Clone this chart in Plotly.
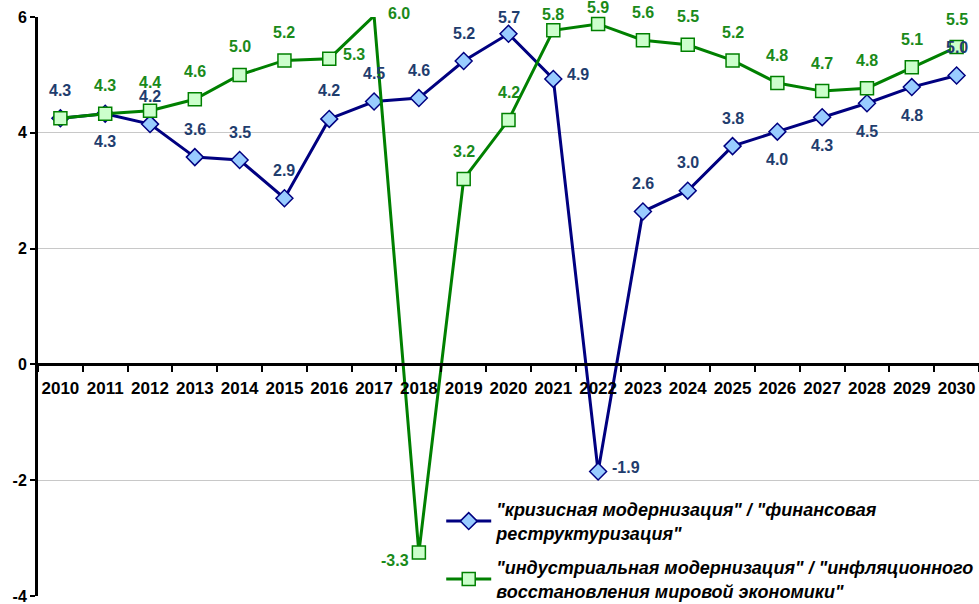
import plotly.graph_objects as go

years = [str(y) for y in range(2010, 2031)]

y_ticks = [-4, -2, 0, 2, 4, 6]
y_tick_labels = ["-4", "-2", "0", "2", "4", "6"]

crisis_values = [4.25, 4.33, 4.15, 3.58, 3.53, 2.87, 4.24, 4.54, 4.60, 5.24, 5.71,
                 4.93, -1.85, 2.64, 3.00, 3.77, 4.02, 4.27, 4.51, 4.79, 4.99]
crisis_labels = ["4.3", "4.3", "4.2", "3.6", "3.5", "2.9", "4.2", "4.5", "4.6", "5.2", "5.7",
                 "4.9", "-1.9", "2.6", "3.0", "3.8", "4.0", "4.3", "4.5", "4.8", "5.0"]
# label placement: t = above, T = above (tight, near top edge), b = below, r = right, l = left
crisis_pos = ["t", "b", "t", "t", "t", "t", "t", "t", "t", "t", "T",
              "r", "r", "t", "t", "t", "b", "b", "b", "b", "t"]

industry_values = [4.25, 4.33, 4.38, 4.58, 5.00, 5.25, 5.28, 6.02, -3.25, 3.20, 4.22,
                   5.77, 5.88, 5.60, 5.52, 5.25, 4.86, 4.72, 4.77, 5.13, 5.48]
industry_labels = ["", "4.3", "4.4", "4.6", "5.0", "5.2", "5.3", "6.0", "-3.3", "3.2", "4.2",
                   "5.8", "5.9", "5.6", "5.5", "5.2", "4.8", "4.7", "4.8", "5.1", "5.5"]
industry_pos = ["t", "t", "t", "t", "t", "t", "r", "r", "l", "t", "t",
                "T", "T", "t", "t", "t", "t", "t", "t", "t", "t"]

crisis_name = "\"кризисная модернизация\" / \"финансовая<br>реструктуризация\""
industry_name = "\"индустриальная модернизация\" / \"инфляционного<br>восстановления мировой экономики\""

FONT = "Liberation Sans, Arial, sans-serif"
BLUE_LINE = "#000080"
BLUE_TEXT = "#1F3D6E"
GREEN_LINE = "#008000"
GREEN_TEXT = "#1A8A1A"
Y_MAX = 6

fig = go.Figure()

fig.add_trace(
    go.Scatter(
        x=years,
        y=crisis_values,
        mode="lines+markers",
        name=crisis_name,
        legendgroup="a",
        cliponaxis=False,
        line=dict(color=BLUE_LINE, width=3),
        marker=dict(symbol="diamond", size=13, color="#99CCFF",
                    line=dict(color=BLUE_LINE, width=1.5))
    )
)

fig.add_trace(
    go.Scatter(
        x=years,
        y=industry_values,
        mode="lines+markers",
        name=industry_name,
        legendgroup="b",
        cliponaxis=False,
        line=dict(color=GREEN_LINE, width=3),
        marker=dict(symbol="square", size=13, color="#CCFFCC",
                    line=dict(color=GREEN_LINE, width=1.5))
    )
)

annotations = []


def add_labels(values, labels, positions, color):
    # category axis: annotations use the category index;
    # plotly hides annotations anchored outside the range, so clamp to the top
    for i, (v, t, p) in enumerate(zip(values, labels, positions)):
        if not t:
            continue
        a = dict(x=i, y=min(v, Y_MAX), text=t, showarrow=False,
                 font=dict(family=FONT, size=16, color=color, weight="bold"))
        if p == "t":
            a.update(yshift=28)
        elif p == "T":
            a.update(yshift=16)
        elif p == "b":
            a.update(yshift=-28)
        elif p == "r":
            a.update(xanchor="left", xshift=12, yshift=4)
        elif p == "l":
            a.update(xanchor="right", xshift=-8, yshift=-8)
        annotations.append(a)


add_labels(industry_values, industry_labels, industry_pos, GREEN_TEXT)
add_labels(crisis_values, crisis_labels, crisis_pos, BLUE_TEXT)

fig.update_layout(
    width=979,
    height=604,
    margin=dict(l=38, r=0, t=17, b=8, autoexpand=False),
    plot_bgcolor="white",
    paper_bgcolor="white",
    font=dict(family=FONT, size=16, color="black"),
    annotations=annotations,
    showlegend=True,
    legend=dict(
        x=0.4285,
        y=0.181,
        xanchor="left",
        yanchor="top",
        bgcolor="white",
        traceorder="grouped",
        tracegroupgap=8,
        itemwidth=45,
        font=dict(family=FONT, size=18, color="black", weight="bold", style="italic")
    ),
    xaxis=dict(
        type="category",
        anchor="free",
        position=0.4,
        automargin=False,
        showline=True,
        linecolor="black",
        linewidth=3,
        showgrid=False,
        ticks="outside",
        tickson="boundaries",
        ticklen=6,
        tickwidth=2,
        tickcolor="black",
        tickangle=0,
        ticklabelstandoff=7,
        tickfont=dict(family=FONT, size=17, color="black", weight="bold"),
        range=[-0.5, 20.5]
    ),
    yaxis=dict(
        range=[-4, Y_MAX],
        tickvals=y_ticks,
        ticktext=y_tick_labels,
        automargin=False,
        ticklabeloverflow="allow",
        showline=True,
        linecolor="black",
        linewidth=3,
        showgrid=True,
        gridcolor="#C8C8C8",
        gridwidth=1,
        zeroline=False,
        ticks="outside",
        ticklen=5,
        tickwidth=2,
        tickcolor="black",
        tickfont=dict(family=FONT, size=16, color="black", weight="bold")
    )
)

# drop the default page margin so the figure sits at the window's corner
fig.write_html(
    "out.html",
    config={"displayModeBar": False},
    post_script="document.body.style.margin = '0';"
)
